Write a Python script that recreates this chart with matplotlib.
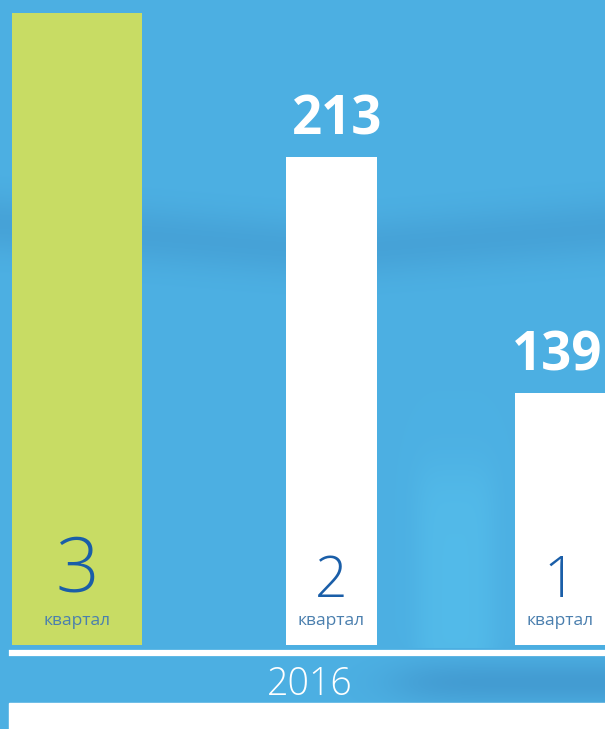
import numpy as np
import matplotlib.pyplot as plt
from matplotlib.patches import Rectangle
from matplotlib.lines import Line2D

# данные
quarters = ["3", "2", "1"]
values = [258, 213, 139]
value_labels = [None, "213", "139"]
year = "2016"

# оформление
x_pos = [77, 331.5, 560]
widths = [130, 91, 91]
bar_colors = ["#c8dc64", "#ffffff", "#ffffff"]
num_sizes = [55, 41, 41]
num_base = [592, 597, 597]
num_color = "#1a5ea8"
word_color = "#4a7fae"
plt.rcParams['font.family'] = ['Open Sans', 'DejaVu Sans']

W, H = 605, 729
fig = plt.figure(figsize=(W / 100, H / 100), dpi=100)

# фон: размытое голубое фото, приближаем градиентом
bg = fig.add_axes([0, 0, 1, 1])
yy, xx = np.mgrid[0:H, 0:W]
base = np.array([0.30, 0.69, 0.89])
dark = np.array([0.24, 0.56, 0.78])
light = np.array([0.33, 0.74, 0.92])
shade = 0.4 * np.exp(-((yy - 250 + 0.08 * np.abs(xx - 330)) / 30.0) ** 2)
shade += 0.6 * np.exp(-((yy - 682) / 22.0) ** 2) / (1 + np.exp(-(xx - 400) / 20.0))
shade = np.clip(shade, 0, 1)[..., None]
glow = 0.8 * np.exp(-((xx - 455) / 40.0) ** 4) / (1 + np.exp(-(yy - 470) / 15.0))
glow = (glow * (yy < 648))[..., None]
img = base * (1 - shade) + dark * shade
img = img * (1 - glow) + light * glow
bg.imshow(img, extent=[0, W, H, 0], aspect='auto')
bg.set_xlim(0, W)
bg.set_ylim(H, 0)
bg.axis('off')

# столбцы
base_px = 645
ax = fig.add_axes([0, (H - base_px) / H, 1, base_px / H])
ax.patch.set_alpha(0)
ax.bar(x_pos, values, width=widths, color=bar_colors, bottom=0, zorder=2)
ax.set_xlim(0, W)
ax.set_ylim(60.0, 262.2)
ax.axis('off')

for x, v, lab in zip(x_pos, values, value_labels):
    if lab:
        ax.text(min(x + 6, 557), v + 3, lab, ha='center', va='bottom', color='white',
                fontsize=38, fontweight='bold', clip_on=False)

for x, q, s, b in zip(x_pos, quarters, num_sizes, num_base):
    fig.text(x / W, 1 - b / H, q, ha='center', va='baseline', color=num_color,
             fontsize=s, fontweight='light')
    fig.text(x / W, 1 - 625 / H, "квартал", ha='center', va='baseline',
             color=word_color, fontsize=12.5)

# линия и подпись года
fig.add_artist(Line2D([12 / W, 1], [1 - 653 / H, 1 - 653 / H], color='white', lw=4.5))
fig.text(310 / W, 1 - 695 / H, year, ha='center', va='baseline', color='white',
         fontsize=27, fontweight='light')
fig.add_artist(Rectangle((9 / W, 0), 1, (H - 703) / H, transform=fig.transFigure,
                         color='white', zorder=5))

fig.savefig("out.png", dpi=100)
